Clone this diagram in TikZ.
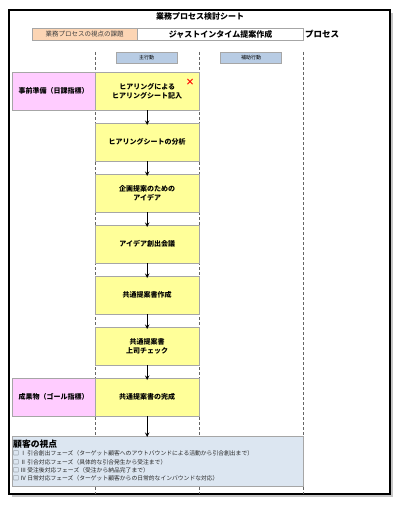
\documentclass[tikz,border=0pt]{standalone}
\usepackage{fontspec}
\setmainfont{Noto Sans CJK JP}
\usetikzlibrary{positioning}
\definecolor{stepyellow}{HTML}{FFFF99}
\definecolor{markpink}{HTML}{FFCCFF}
\definecolor{issuetan}{HTML}{FCD5B4}
\definecolor{headblue}{HTML}{B8CCE4}
\definecolor{viewblue}{HTML}{DCE6F1}
\begin{document}
\begin{tikzpicture}[x=1pt, y=-1pt,
    stepbox/.style={draw=gray!70, fill=stepyellow, minimum width=104pt, minimum height=38pt,
        anchor=north west, align=center, inner sep=1pt, font=\fontsize{7}{9}\selectfont\bfseries},
    markbox/.style={draw=gray!70, fill=markpink, minimum width=83pt, minimum height=38pt,
        anchor=north west, inner sep=1pt, font=\fontsize{7}{9}\selectfont\bfseries},
    headbox/.style={draw=gray!70, fill=headblue, minimum width=61pt, minimum height=11pt,
        inner sep=0pt, font=\fontsize{5}{6}\selectfont},
    lane/.style={gray!80!black, densely dashed, line width=0.6pt},
    flow/.style={line width=1pt, ->, >=stealth}]
    \useasboundingbox (0,0) rectangle (400,508);
    % sheet
    \fill[gray!45] (12,13) rectangle (393,497);
    \draw[fill=white, line width=1.1pt] (9,10) rectangle (390,494);
    \node[font=\fontsize{8}{9}\selectfont\bfseries] (title) at (200,16) {業務プロセス検討シート};
    \node[draw=gray!70, fill=issuetan, anchor=north west, minimum width=105pt, minimum height=12pt,
        inner sep=0pt, text=gray!50!black, font=\fontsize{6.5}{7}\selectfont] (issue) at (32,28) {業務プロセスの視点の課題};
    \node[draw=gray!70, fill=white, anchor=west, minimum width=166pt, minimum height=12pt,
        inner sep=0pt, font=\fontsize{8}{9}\selectfont\bfseries] (task) at (issue.east) {ジャストインタイム提案作成};
    \node[anchor=west, inner sep=1pt, font=\fontsize{8.5}{9}\selectfont\bfseries] (proc) at (task.east) {プロセス};
    % lanes
    \foreach \x in {95,199,303}
        \draw[lane] (\x,52) -- (\x,494);
    \node[headbox] (main) at (146.5,58) {主行動};
    \node[headbox] (sub) at (251,58) {補助行動};
    % steps
    \foreach \i/\t in {1/{ヒアリングによる\\ヒアリングシート記入}, 2/{ヒアリングシートの分析},
                       3/{企画提案のための\\アイデア}, 4/{アイデア創出会議}, 5/{共通提案書作成},
                       6/{共通提案書\\上司チェック}, 7/{共通提案書の完成}}
        \node[stepbox] (s\i) at (95,{72+51*(\i-1)}) {\t};
    \node[text=red, font=\fontsize{9}{9}\selectfont\bfseries, inner sep=0pt] (cross) at (190,82) {×};
    \node[markbox] (prep) at (12,72) {事前準備（日課指標）};
    \node[markbox] (goal) at (12,378) {成果物（ゴール指標）};
    \foreach \i [evaluate=\i as \j using int(\i+1)] in {1,...,6}
        \draw[flow] (s\i.south) -- ([yshift=-2pt]s\j.north);
    % customer view
    \node[draw=gray!70, fill=viewblue, anchor=north west, minimum width=291pt, minimum height=50pt] (view) at (12,436) {};
    \draw[flow] (s7.south) -- ([yshift=-1pt]s7.south |- view.north);
    \node[anchor=north west, inner sep=1pt, font=\fontsize{8.8}{9}\selectfont\bfseries] (vhead) at ([yshift=-3pt]view.north west) {顧客の視点};
    \node[anchor=north west, align=left, inner sep=1pt, text=gray!30!black,
        font=\fontsize{5.8}{8.3}\selectfont] (vlist) at (vhead.south west)
        {□ Ⅰ 引合創出フェーズ（ターゲット顧客へのアウトバウンドによる活動から引合創出まで）\\
         □ Ⅱ 引合対応フェーズ（具体的な引合発生から受注まで）\\
         □ Ⅲ 受注後対応フェーズ（受注から納品完了まで）\\
         □ Ⅳ 日常対応フェーズ（ターゲット顧客からの日常的なインバウンドな対応）};
\end{tikzpicture}
\end{document}
